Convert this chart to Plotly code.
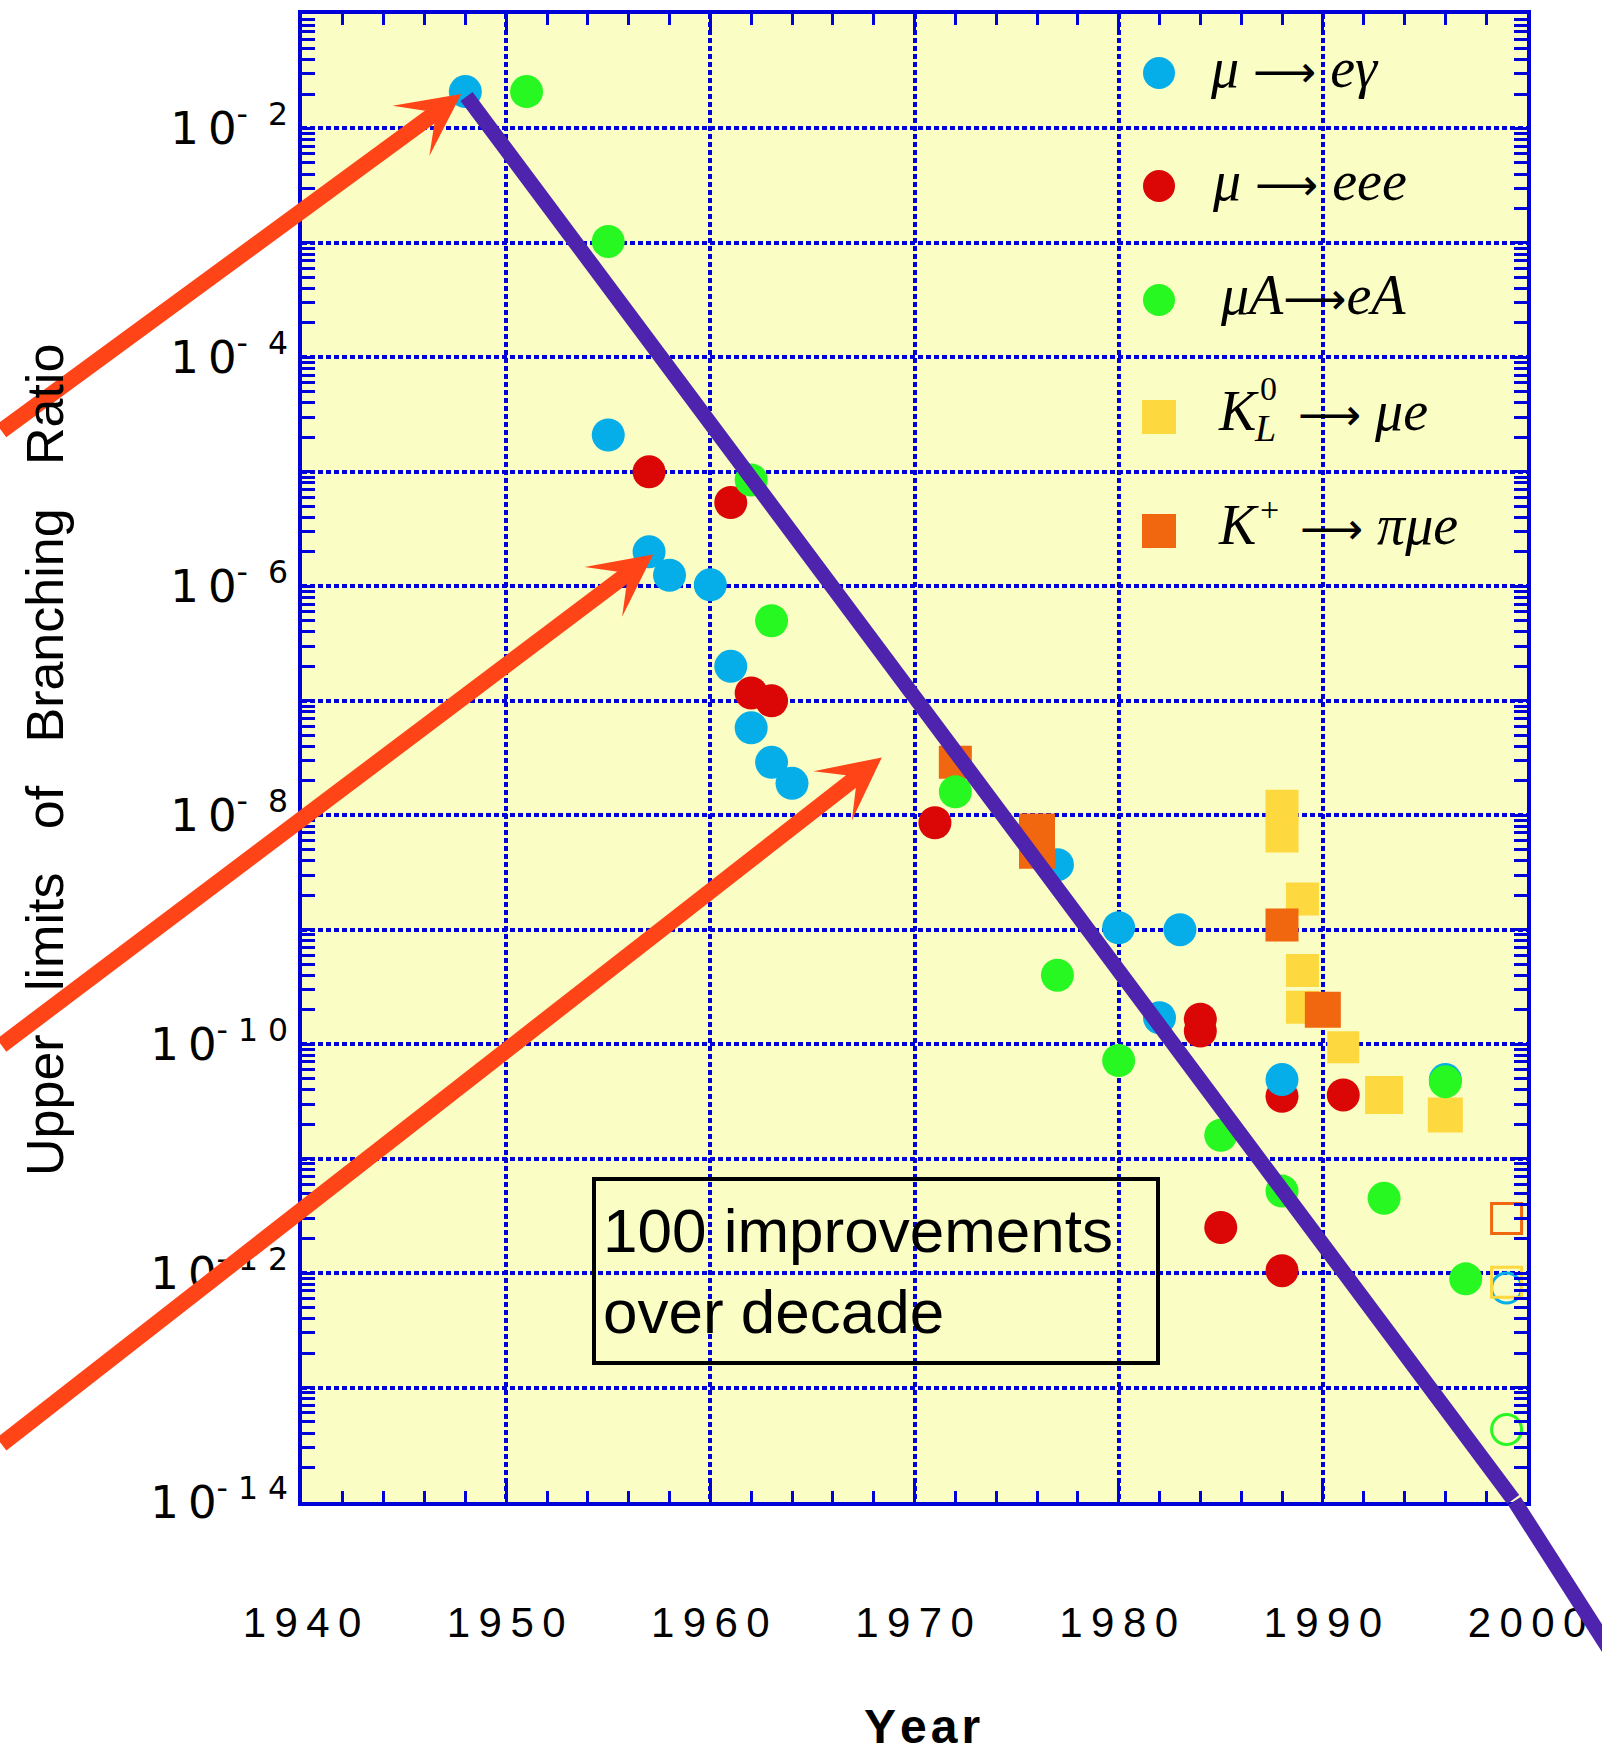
import numpy as np
import plotly.graph_objects as go

# ---------------------------------------------------------------- data
# mu -> e gamma
meg_year = [1948, 1955, 1957, 1958, 1960, 1961, 1962, 1963, 1964, 1977, 1980, 1982, 1983, 1988, 1996]
meg_limit = [2.1e-2, 2.1e-5, 2.0e-6, 1.25e-6, 1.03e-6, 2.0e-7, 5.8e-8, 2.9e-8, 1.9e-8,
             3.7e-9, 1.04e-9, 1.7e-10, 1.0e-9, 4.9e-11, 4.9e-11]

# mu -> eee
meee_year = [1957, 1961, 1962, 1963, 1971, 1984, 1984, 1985, 1988, 1988, 1991]
meee_limit = [1.0e-5, 5.4e-6, 1.17e-7, 1.0e-7, 8.6e-9, 1.65e-10, 1.3e-10, 2.5e-12, 3.5e-11, 1.05e-12, 3.6e-11]

# mu A -> e A (conversion)
mec_year = [1951, 1955, 1962, 1963, 1972, 1977, 1980, 1985, 1988, 1993, 1996, 1997]
mec_limit = [2.1e-2, 1.03e-3, 8.5e-6, 5.0e-7, 1.6e-8, 4.0e-10, 7.2e-11, 1.6e-11, 5.2e-12, 4.5e-12, 4.7e-11, 8.9e-13]

# K_L^0 -> mu e
kl_year = [1988, 1988, 1989, 1989, 1989, 1991, 1993, 1996]
kl_limit = [1.2e-8, 6.6e-9, 1.85e-9, 4.4e-10, 2.1e-10, 9.4e-11, 3.6e-11, 2.4e-11]

# K+ -> pi mu e
kp_year = [1972, 1976, 1976, 1988, 1990]
kp_limit = [2.9e-8, 7.2e-9, 4.9e-9, 1.1e-9, 2.0e-10]

# planned sensitivities (open symbols): mu->e gamma, K_L->mu e, K+->pi mu e, mu A->e A
goal_year = [1999, 1999, 1999, 1999]
goal_limit = [7.4e-13, 8.3e-13, 3.0e-12, 4.3e-14]

# trend line, "100 improvements over decade"
trend_year = [1948.06, 1999.38, 2005.5]
trend_limit = [1.9e-2, 1.02e-14, 2.0e-16]

# tips of the highlighting arrows
arrow_year = [1947.8, 1957.2, 1968.4]
arrow_limit = [2.0e-2, 1.9e-6, 3.2e-8]

year_ticks = [1940, 1950, 1960, 1970, 1980, 1990, 2000]
decades = list(range(-14, -1))

# ---------------------------------------------------------------- style
BLUE_AX = "#0000d8"
C_MEG = "#05aee8"
C_MEEE = "#db0606"
C_MEC = "#28f822"
C_KL = "#fed83f"
C_KP = "#f0670f"
C_ARROW = "#ff4518"
C_TREND = "#4e24ae"

W, H = 1602, 1752
ML, MR, MT, MB = 302, 75, 14, 250
PW, PH = W - ML - MR, H - MT - MB


def fx(px):
    return (px - ML) / PW


def fy(py):
    return 1 - (py - MT) / PH


fig = go.Figure()


def add_points(x, y, color, symbol, size, lw=0):
    fig.add_trace(go.Scatter(
        x=x, y=y, mode="markers", showlegend=False, cliponaxis=False,
        marker=dict(color=color, symbol=symbol, size=size, opacity=1,
                    line=dict(width=lw, color=color)),
    ))


add_points(kl_year, kl_limit, C_KL, "square", [33, 33, 33, 33, 33, 32, 38, 35])
add_points(meee_year, meee_limit, C_MEEE, "circle", 33)
add_points(meg_year, meg_limit, C_MEG, "circle", 33)
add_points(kp_year, kp_limit, C_KP, "square", [33, 36, 36, 33, 36])
add_points(mec_year, mec_limit, C_MEC, "circle", 33)
add_points(goal_year, goal_limit, [C_MEG, C_KL, C_KP, C_MEC],
           ["circle-open", "square-open", "square-open", "circle-open"], 30, lw=3)

# ---------------------------------------------------------------- axes
thin = "\u2009"
nb = "\u00a0"
year_text = [thin.join(str(y)) for y in year_ticks]


def dec_label(n):
    e = str(-n)
    if len(e) == 1:
        sup = "-" + nb + nb + e
    else:
        sup = "-" + nb + e[0] + nb + e[1]
    return "1" + thin + "0<sup>" + sup + "</sup>"


ytick_vals = [10.0 ** n for n in decades]
ytick_text = [dec_label(n) if n % 2 == 0 else "" for n in decades]
yminor_vals = [k * 10.0 ** n for n in decades for k in range(2, 10)]

grid_style = dict(showgrid=True, gridcolor=BLUE_AX, gridwidth=3.5, griddash="5px,3px")

fig.update_xaxes(
    range=[1940, 2000], tickmode="array", tickvals=year_ticks, ticktext=year_text,
    ticks="inside", ticklen=20, tickwidth=3, tickcolor=BLUE_AX,
    showline=True, linewidth=4, linecolor=BLUE_AX, mirror="allticks",
    minor=dict(tickmode="linear", tick0=1940, dtick=2, ticks="inside", ticklen=11,
               tickwidth=3, tickcolor=BLUE_AX, showgrid=False),
    tickfont=dict(family="Liberation Sans", size=42, color="black"),
    ticklabelstandoff=81, zeroline=False, automargin=False, **grid_style,
)
fig.update_yaxes(
    type="log", range=[-14, -1], tickmode="array", tickvals=ytick_vals, ticktext=ytick_text,
    ticks="inside", ticklen=13, tickwidth=3, tickcolor=BLUE_AX,
    showline=True, linewidth=4, linecolor=BLUE_AX, mirror="allticks",
    minor=dict(tickmode="array", tickvals=yminor_vals, ticks="inside", ticklen=13,
               tickwidth=2.5, tickcolor=BLUE_AX, showgrid=False),
    tickfont=dict(family="DejaVu Sans", size=45, color="black"),
    ticklabelstandoff=1, zeroline=False, automargin=False, **grid_style,
)

annotations = []

# trend line (two segments, runs past the frame)
for i in range(2):
    annotations.append(dict(
        x=trend_year[i], y=np.log10(trend_limit[i]), xref="x", yref="y",
        ax=trend_year[i + 1], ay=np.log10(trend_limit[i + 1]), axref="x", ayref="y",
        text="", showarrow=True, arrowhead=0, arrowwidth=15, arrowcolor=C_TREND,
    ))

# highlighting arrows, tails run to the left edge of the figure
arrow_tail = [(-463, 338), (-654, 492), (-884, 688)]
for xa, ya, (tx, ty) in zip(arrow_year, arrow_limit, arrow_tail):
    annotations.append(dict(
        x=xa, y=np.log10(ya), xref="x", yref="y", ax=tx, ay=ty,
        text="", showarrow=True, arrowhead=3, arrowsize=0.65, arrowwidth=16,
        arrowcolor=C_ARROW,
    ))

# boxed note
annotations.append(dict(
    x=fx(592), y=fy(1177), xref="paper", yref="paper", xanchor="left", yanchor="top",
    text="100 improvements<br>over decade", showarrow=False, align="left", valign="middle",
    width=546, height=166, borderpad=7, borderwidth=4, bordercolor="black",
    font=dict(family="Liberation Sans", size=62, color="black"),
))

# axis titles
annotations.append(dict(
    x=fx(45), y=fy(760), xref="paper", yref="paper", xanchor="center", yanchor="middle",
    textangle=-90, showarrow=False,
    text="Upper\u00a0\u00a0 limits\u00a0\u00a0 of\u00a0\u00a0 Branching\u00a0\u00a0 Ratio",
    font=dict(family="Liberation Sans", size=52, color="black"),
))
annotations.append(dict(
    x=fx(922), y=fy(1727), xref="paper", yref="paper", xanchor="center", yanchor="middle",
    showarrow=False, text="<b>Y\u200ae\u200aa\u200ar</b>",
    font=dict(family="Liberation Sans", size=48, color="black"),
))

# ---------------------------------------------------------------- key
SERIF = "Liberation Serif"
ARROW = '<span style="font-family:DejaVu Sans;font-size:44px">\u27f6</span>'
key_rows = [73, 186, 300, 417, 531]
key_colors = [C_MEG, C_MEEE, C_MEC, C_KL, C_KP]
key_shapes = ["circle", "circle", "circle", "rect", "rect"]
shapes = []
for yr, col, kind in zip(key_rows, key_colors, key_shapes):
    half = 16 if kind == "circle" else 17
    shapes.append(dict(
        type=kind, xref="paper", yref="paper", xsizemode="pixel", ysizemode="pixel",
        xanchor=fx(1159), yanchor=fy(yr), x0=-half, x1=half, y0=-half, y1=half,
        fillcolor=col, line=dict(width=0), layer="above",
    ))


def key_text(px, py, text, size=56):
    annotations.append(dict(
        x=fx(px), y=fy(py), xref="paper", yref="paper", xanchor="left", yanchor="middle",
        text=text, showarrow=False, font=dict(family=SERIF, size=size, color="black"),
    ))


key_text(1208, 68, "<i>μ</i> " + ARROW + " <i>eγ</i>")
key_text(1210, 181, "<i>μ</i> " + ARROW + " <i>eee</i>")
key_text(1218, 295, "<i>μA</i>" + ARROW + "<i>eA</i>")
key_text(1216, 411, "<i>K</i>")
key_text(1258, 388, "0", 34)
key_text(1252, 428, "<i>L</i>", 38)
key_text(1296, 411, ARROW + " <i>μe</i>")
key_text(1216, 525, "<i>K</i>")
key_text(1258, 510, "+", 34)
key_text(1298, 525, ARROW + " <i>πμe</i>")

fig.update_layout(
    width=W, height=H, margin=dict(l=ML, r=MR, t=MT, b=MB, pad=0),
    plot_bgcolor="#fafdc4", paper_bgcolor="white", showlegend=False,
    annotations=annotations, shapes=shapes,
)

fig.write_html("out.html")
